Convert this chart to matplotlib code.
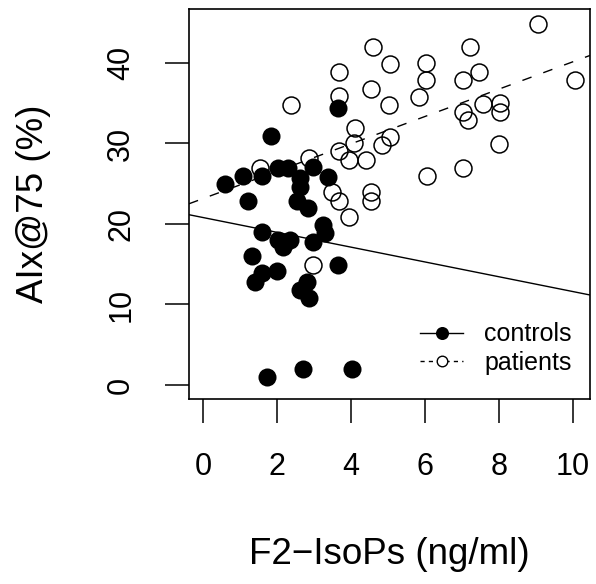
import matplotlib
matplotlib.use("Agg")
import matplotlib.pyplot as plt
from matplotlib.lines import Line2D

plt.rcParams["font.family"] = ["Liberation Sans", "DejaVu Sans"]

# controls (filled circles)
ctrl_x = [3.65, 1.83, 0.59, 1.07, 1.59, 2.03, 2.30, 2.62, 2.97, 3.38,
          2.62, 1.22, 2.54, 2.83, 3.24, 3.30, 1.59, 2.03, 2.35, 2.97,
          2.15, 1.32, 1.59, 1.41, 2.00, 3.65, 2.80, 2.62, 2.86, 1.73,
          2.70, 4.03]
ctrl_y = [34.4, 30.9, 25.0, 25.9, 25.9, 27.0, 27.0, 25.7, 27.1, 25.8,
          24.6, 22.9, 22.9, 22.0, 19.9, 18.9, 19.0, 18.0, 18.0, 17.8,
          17.2, 16.0, 13.9, 12.8, 14.1, 14.9, 12.8, 11.8, 10.8, 1.0,
          2.0, 2.0]

# patients (open circles)
pat_x = [2.38, 9.05, 4.60, 7.22, 5.05, 6.02, 6.02, 3.68, 7.46, 7.02,
         10.05, 4.53, 3.68, 5.84, 5.03, 7.56, 8.03, 8.03, 7.02, 7.16,
         4.10, 5.05, 4.83, 4.08, 3.68, 3.95, 4.40, 8.00, 6.05, 7.02,
         4.54, 4.54, 3.68, 3.48, 3.95, 2.86, 1.54, 2.97]
pat_y = [34.8, 44.8, 42.0, 42.0, 39.9, 40.0, 37.9, 38.9, 38.9, 37.9,
         37.9, 36.8, 35.9, 35.8, 34.8, 34.9, 35.0, 33.9, 33.9, 32.9,
         31.9, 30.8, 29.8, 30.0, 29.0, 28.0, 28.0, 29.9, 25.9, 26.9,
         24.0, 22.9, 22.9, 24.0, 20.9, 28.2, 27.0, 14.9]

# fitted lines: (intercept, slope)
ctrl_fit = (20.8, -0.92)
pat_fit = (23.15, 1.70)

fig = plt.figure(figsize=(5.96, 5.84), dpi=100)
ax = fig.add_axes([0.317, 0.3168, 0.673, 0.6678])

ax.plot(ctrl_x, ctrl_y, "o", color="black", markersize=13, markeredgewidth=0)
ax.plot(pat_x, pat_y, "o", markerfacecolor="none", markeredgecolor="black",
        markersize=12.2, markeredgewidth=1.1)

ax.axline((0, ctrl_fit[0]), slope=ctrl_fit[1], color="black", linewidth=1.0)
ax.axline((0, pat_fit[0]), slope=pat_fit[1], color="black", linewidth=1.0,
          linestyle=(0, (7, 9)))

ax.set_xlim(-0.38, 10.46)
ax.set_ylim(-1.74, 46.7)
ax.set_xticks([0, 2, 4, 6, 8, 10])
ax.set_yticks([0, 10, 20, 30, 40])

for s in ax.spines.values():
    s.set_linewidth(1.2)
ax.tick_params(direction="out", length=17, width=1.1, pad=21, labelsize=22)
for lbl in ax.get_yticklabels():
    lbl.set_rotation(90)
    lbl.set_va("center")

ax.set_xlabel("F2\u2212IsoPs (ng/ml)", fontsize=26.5)
ax.set_ylabel("AIx@75 (%)", fontsize=26.5)
ax.xaxis.set_label_coords(0.5, -0.355)
ax.yaxis.set_label_coords(-0.345, 0.5)

handles = [
    Line2D([], [], color="black", linewidth=1.0, marker="o", markersize=9.4,
           markeredgewidth=0),
    Line2D([], [], color="black", linewidth=1.0, linestyle=(0, (3, 3)),
           marker="o", markersize=7.6, markerfacecolor="white",
           markeredgewidth=1.0),
]
ax.legend(handles, ["controls", "patients"], loc="lower right",
          bbox_to_anchor=(0.985, 0.03), frameon=False, fontsize=18,
          handlelength=1.72, handletextpad=0.84, labelspacing=0.18,
          borderpad=0.0)

fig.savefig("out.png", dpi=100, facecolor="white")
